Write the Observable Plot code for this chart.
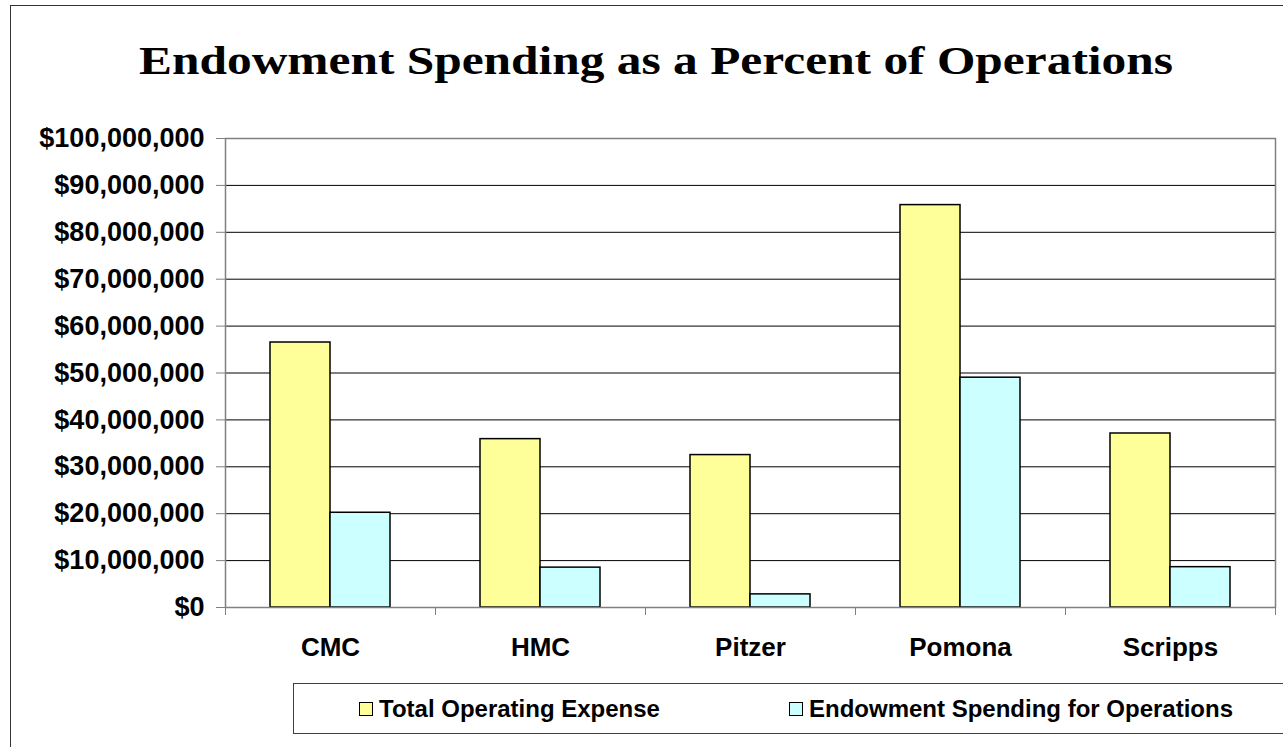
<!DOCTYPE html>
<html>
<head>
<meta charset="utf-8">
<script src="https://cdn.jsdelivr.net/npm/d3@7"></script>
<script src="https://cdn.jsdelivr.net/npm/@observablehq/plot@0.6"></script>
<style>
  html, body { margin: 0; padding: 0; background: #fff; overflow: hidden; }
  body { width: 1283px; height: 747px; position: relative; font-family: "Liberation Sans", Arial, sans-serif; }
  #frame { position: absolute; left: 10px; top: 5px; width: 1300px; height: 800px; border: 1px solid #333; box-sizing: border-box; }
  #title { position: relative; width: 1283px; height: 105px; box-sizing: border-box; padding-top: 35px; padding-left: 29px;
           line-height: 50px; text-align: center; font-family: "Liberation Serif", "Times New Roman", serif; font-weight: bold; font-size: 41px; color: #000; }
  #title span { display: inline-block; transform: scaleX(1.205); transform-origin: center; white-space: nowrap; }
  #chart { position: relative; }
  #chart svg text { fill: #000; }
  #legend { position: absolute; left: 293px; top: 683px; width: 1050px; height: 51px; border: 1px solid #404040; box-sizing: border-box;
            font-weight: bold; font-size: 24px; color: #000; }
  .item { position: absolute; top: 0; height: 49px; display: flex; align-items: center; white-space: nowrap; }
  .sw { width: 14px; height: 14px; border: 1.5px solid #000; margin-right: 6px; box-sizing: border-box; }
</style>
</head>
<body>
<div id="frame"></div>
<div id="title"><span>Endowment Spending as a Percent of Operations</span></div>
<div id="chart"></div>
<div id="legend"></div>
<script>
const categories = ["CMC", "HMC", "Pitzer", "Pomona", "Scripps"];
const seriesNames = ["Total Operating Expense", "Endowment Spending for Operations"];
const totalOperatingExpense = [56500000, 35900000, 32500000, 85800000, 37100000];
const endowmentSpending = [20200000, 8500000, 2800000, 49000000, 8600000];
const yTickValues = [0, 10000000, 20000000, 30000000, 40000000, 50000000, 60000000, 70000000, 80000000, 90000000, 100000000];
const seriesColors = ["#FFFF99", "#CCFFFF"];

const totalRows = categories.map((c, i) => ({category: c, series: seriesNames[0], value: totalOperatingExpense[i]}));
const endowRows = categories.map((c, i) => ({category: c, series: seriesNames[1], value: endowmentSpending[i]}));

const chart = Plot.plot({
  width: 1283,
  height: 570,
  marginLeft: 225,
  marginRight: 8,
  marginTop: 33,
  marginBottom: 68,
  style: {fontFamily: "'Liberation Sans', Arial, sans-serif", background: "transparent", overflow: "visible"},
  x: {domain: categories, padding: 0, label: null},
  y: {domain: [0, 100000000], label: null},
  marks: [
    Plot.gridY(yTickValues, {stroke: "#000", strokeOpacity: 1, strokeWidth: 1}),
    Plot.barY(totalRows, {x: "category", y: "value", fill: seriesColors[0], stroke: "#000", strokeWidth: 1.5, insetLeft: 45, insetRight: 105}),
    Plot.barY(endowRows, {x: "category", y: "value", fill: seriesColors[1], stroke: "#000", strokeWidth: 1.5, insetLeft: 105, insetRight: 45}),
    Plot.frame({stroke: "#808080", strokeWidth: 1.5}),
    Plot.axisY(yTickValues, {tickFormat: d3.format("$,"), tickSize: 9, tickPadding: 12, fontSize: 27, fontWeight: "bold", stroke: "#808080", label: null}),
    Plot.axisX({tickSize: 0, tickPadding: 30, fontSize: 26, fontWeight: "bold", label: null}),
    Plot.axisX({tickSize: 8, tickFormat: () => "", dx: -105, stroke: "#808080", label: null}),
    Plot.axisX(["Scripps"], {tickSize: 8, tickFormat: () => "", dx: 105, stroke: "#808080", label: null})
  ]
});
document.getElementById("chart").appendChild(chart);

const legend = document.getElementById("legend");
const itemLeft = [65, 495];
seriesNames.forEach((name, i) => {
  const item = document.createElement("div");
  item.className = "item";
  item.style.left = itemLeft[i] + "px";
  const sw = document.createElement("div");
  sw.className = "sw";
  sw.style.background = seriesColors[i];
  const label = document.createElement("span");
  label.textContent = name;
  item.appendChild(sw);
  item.appendChild(label);
  legend.appendChild(item);
});
</script>
</body>
</html>
